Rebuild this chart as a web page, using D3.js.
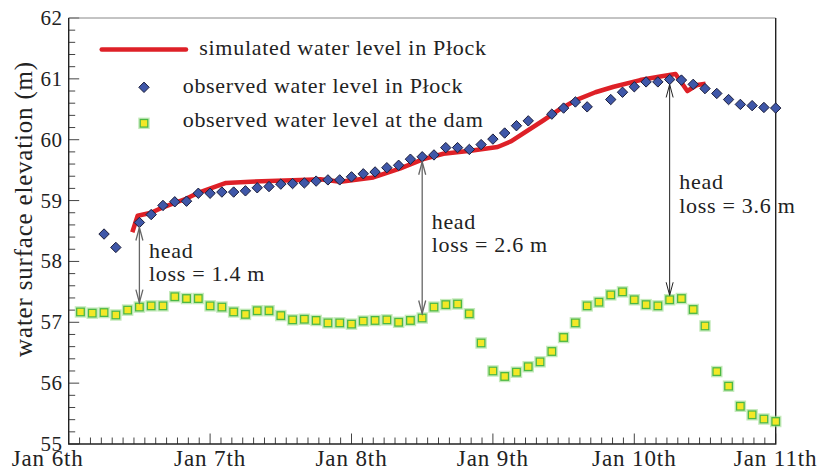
<!DOCTYPE html>
<html>
<head>
<meta charset="utf-8">
<script src="https://cdn.jsdelivr.net/npm/d3@7"></script>
<style>
  body { margin: 0; background: #fff; }
  text { font-family: "Liberation Serif", "Times New Roman", serif; fill: #222; }
</style>
</head>
<body>
<svg id="chart" width="820" height="470"></svg>
<script>
// hours counted from Jan 6th 00:00
var dayTicks = [0, 24, 48, 72, 96, 120];
var dayLabels = ["Jan 6th", "Jan 7th", "Jan 8th", "Jan 9th", "Jan 10th", "Jan 11th"];
var levelTicks = [55, 56, 57, 58, 59, 60, 61, 62];

var simHours = [10.8, 11.7, 14, 16, 19.9, 22.3, 26.7, 30.8, 39.3, 42.7, 46.1, 51.7, 56.3, 60.2,
  63.6, 68.2, 72.8, 75.0, 80.6, 83.5, 86.3, 89.4, 92.5, 97.0, 100.4, 103.0, 105.0, 106.7, 108.1];
var simLevel = [58.48, 58.75, 58.80, 58.89, 59.03, 59.14, 59.29, 59.31, 59.34, 59.35, 59.31, 59.38, 59.53, 59.68,
  59.77, 59.82, 59.88, 59.97, 60.32, 60.51, 60.66, 60.78, 60.87, 60.98, 61.04, 61.08, 60.80, 60.90, 60.92];

var plockHours = [6, 8, 12, 14, 16, 18, 20, 22, 24, 26, 28, 30, 32, 34, 36, 38, 40, 42, 44, 46, 48, 50,
  52, 54, 56, 58, 60, 62, 64, 66, 68, 70, 72, 74, 76, 78, 82, 84, 86, 88, 92, 94, 96, 98, 100,
  102, 104, 106, 108, 110, 112, 114, 116, 118, 120];
var plockLevel = [58.45, 58.23, 58.64, 58.77, 58.92, 58.98, 58.99, 59.12, 59.12, 59.14, 59.14, 59.16,
  59.21, 59.23, 59.27, 59.28, 59.29, 59.32, 59.34, 59.34, 59.39, 59.44, 59.47, 59.54, 59.58, 59.68,
  59.72, 59.75, 59.87, 59.87, 59.84, 59.92, 60.01, 60.11, 60.23, 60.31, 60.42, 60.52, 60.62, 60.54,
  60.66, 60.78, 60.87, 60.95, 60.95, 60.99, 60.98, 60.91, 60.84, 60.76, 60.66, 60.58, 60.56, 60.53, 60.52];

var damHours = [2, 4, 6, 8, 10, 12, 14, 16, 18, 20, 22, 24, 26, 28, 30, 32, 34, 36, 38, 40, 42, 44, 46,
  48, 50, 52, 54, 56, 58, 60, 62, 64, 66, 68, 70, 72, 74, 76, 78, 80, 82, 84, 86, 88, 90, 92, 94, 96,
  98, 100, 102, 104, 106, 108, 110, 112, 114, 116, 118, 120];
var damLevel = [57.17, 57.15, 57.16, 57.12, 57.20, 57.25, 57.27, 57.27, 57.42, 57.39, 57.39, 57.27,
  57.25, 57.17, 57.13, 57.19, 57.19, 57.11, 57.04, 57.05, 57.03, 56.99, 56.99, 56.97, 57.02, 57.03,
  57.04, 57.00, 57.03, 57.07, 57.25, 57.29, 57.30, 57.14, 56.66, 56.20, 56.11, 56.18, 56.27, 56.35,
  56.52, 56.75, 56.99, 57.27, 57.33, 57.45, 57.50, 57.37, 57.29, 57.27, 57.37, 57.39, 57.21, 56.94,
  56.19, 55.95, 55.62, 55.48, 55.41, 55.37];

var headHours = [12, 60, 102];
var headLabels = ["loss = 1.4 m", "loss = 2.6 m", "loss = 3.6 m"];

var legendLabels = ["simulated water level in Płock", "observed water level in Płock", "observed water level at the dam"];

var svg = d3.select("#chart");
var mLeft = 68.7, mRight = 775.7, mTop = 18, mBottom = 444;

var x = d3.scaleLinear().domain([0, 120]).range([mLeft, mRight]);
var y = d3.scaleLinear().domain([55, 62]).range([mBottom, mTop]);

// minor ticks
var xMinor = [];
for (var d = 0; d < 5; d++) for (var k = 1; k < 13; k++) xMinor.push(d * 24 + k * 24 / 13);
var yMinor = [];
for (var v = 55; v < 62; v++) for (var k = 1; k < 5; k++) yMinor.push(v + k * 0.2);

var ax = svg.append("g").attr("stroke", "#444").attr("stroke-width", 1);
ax.selectAll(".xm").data(xMinor).enter().append("line")
  .attr("x1", d => x(d)).attr("x2", d => x(d)).attr("y1", mBottom).attr("y2", mBottom - 6.5);
ax.selectAll(".xM").data(dayTicks).enter().append("line")
  .attr("x1", d => x(d)).attr("x2", d => x(d)).attr("y1", mBottom).attr("y2", mBottom - 10.5);
ax.selectAll(".ym").data(yMinor).enter().append("line")
  .attr("x1", mLeft).attr("x2", mLeft + 6.5).attr("y1", d => y(d)).attr("y2", d => y(d));
ax.selectAll(".yM").data(levelTicks).enter().append("line")
  .attr("x1", mLeft).attr("x2", mLeft + 10.5).attr("y1", d => y(d)).attr("y2", d => y(d));

// frame
svg.append("line").attr("x1", mLeft).attr("x2", mRight).attr("y1", mTop).attr("y2", mTop)
  .attr("stroke", "#888").attr("stroke-width", 1);
svg.append("path").attr("d", "M" + mLeft + "," + mTop + "V" + mBottom + "H" + mRight + "V" + mTop)
  .attr("fill", "none").attr("stroke", "#222").attr("stroke-width", 1.4);

// tick labels
svg.selectAll(".yl").data(levelTicks).enter().append("text")
  .attr("x", 62.5).attr("y", d => y(d) + 7).attr("text-anchor", "end")
  .style("font-size", "21px").style("letter-spacing", "0.5px").text(d => d);
svg.selectAll(".xl").data(dayTicks).enter().append("text")
  .attr("x", (d, i) => i === 0 ? x(d) - 21 : x(d)).attr("y", 466).attr("text-anchor", "middle")
  .style("font-size", "23px").style("letter-spacing", "0.9px").text((d, i) => dayLabels[i]);

svg.append("text").attr("transform", "translate(32,209) rotate(-90)")
  .attr("text-anchor", "middle").style("font-size", "25px").style("letter-spacing", "0.8px")
  .text("water surface elevation (m)");

// simulated line
svg.append("path")
  .datum(simHours.map((h, i) => [h, simLevel[i]]))
  .attr("fill", "none").attr("stroke", "#de2027").attr("stroke-width", 4.5)
  .attr("stroke-linejoin", "round")
  .attr("d", d3.line().x(d => x(d[0])).y(d => y(d[1])));

// dam squares
function square(g, cx, cy) {
  g.append("rect").attr("x", cx - 5).attr("y", cy - 5).attr("width", 10).attr("height", 10)
    .attr("fill", "none").attr("stroke", "#9edc8e").attr("stroke-width", 1.5).attr("opacity", 0.6);
  g.append("rect").attr("x", cx - 3.8).attr("y", cy - 3.8).attr("width", 7.6).attr("height", 7.6)
    .attr("fill", "#f4e826").attr("stroke", "#4cb844").attr("stroke-width", 1.3);
}
var dg = svg.append("g");
damHours.forEach((h, i) => square(dg, x(h), y(damLevel[i])));

// Płock diamonds
var diamond = "M0,-5.2L5.2,0L0,5.2L-5.2,0Z";
svg.append("g").selectAll("path").data(plockHours).enter().append("path")
  .attr("transform", (d, i) => "translate(" + x(d) + "," + y(plockLevel[i]) + ")")
  .attr("d", diamond).attr("fill", "#3f57a8").attr("stroke", "#1b1d3a").attr("stroke-width", 1);

// head loss arrows
var arrowCol = ["#666", "#666", "#222"];
headHours.forEach(function (h, i) {
  var y1 = y(plockLevel[plockHours.indexOf(h)]) + 5;
  var y2 = y(damLevel[damHours.indexOf(h)]) - 4.5;
  var xx = x(h);
  var g = svg.append("g").attr("fill", "none").attr("stroke", arrowCol[i])
    .attr("stroke-width", i < 2 ? 1.3 : 1);
  g.append("line").attr("x1", xx).attr("x2", xx).attr("y1", y1).attr("y2", y2);
  g.append("path").attr("d", "M" + (xx - 3.5) + "," + (y1 + 13) + "L" + xx + "," + y1 + "L" + (xx + 3.5) + "," + (y1 + 13));
  g.append("path").attr("d", "M" + (xx - 3.5) + "," + (y2 - 13) + "L" + xx + "," + y2 + "L" + (xx + 3.5) + "," + (y2 - 13));
});
var headPos = [[149, 258, 280.7], [431.7, 229.3, 251.7], [679.3, 189.3, 213.3]];
headPos.forEach(function (p, i) {
  var t = svg.append("g").style("font-size", "22px").style("letter-spacing", "0.7px");
  t.append("text").attr("x", p[0]).attr("y", p[1]).text("head");
  t.append("text").attr("x", p[0]).attr("y", p[2]).text(headLabels[i]);
});

// legend
var lg = svg.append("g").style("font-size", "22px").style("letter-spacing", "0.7px");
lg.append("line").attr("x1", 101.7).attr("x2", 186).attr("y1", 49.5).attr("y2", 49.5)
  .attr("stroke", "#de2027").attr("stroke-width", 4.5).attr("stroke-linecap", "round");
lg.append("path").attr("transform", "translate(144,87.3)").attr("d", diamond)
  .attr("fill", "#3f57a8").attr("stroke", "#1b1d3a").attr("stroke-width", 1);
square(lg, 144, 123.3);
lg.append("text").attr("x", 199.3).attr("y", 55).text(legendLabels[0]);
lg.append("text").attr("x", 182.7).attr("y", 92.7).text(legendLabels[1]);
lg.append("text").attr("x", 182.7).attr("y", 126.7).text(legendLabels[2]);
</script>
</body>
</html>
